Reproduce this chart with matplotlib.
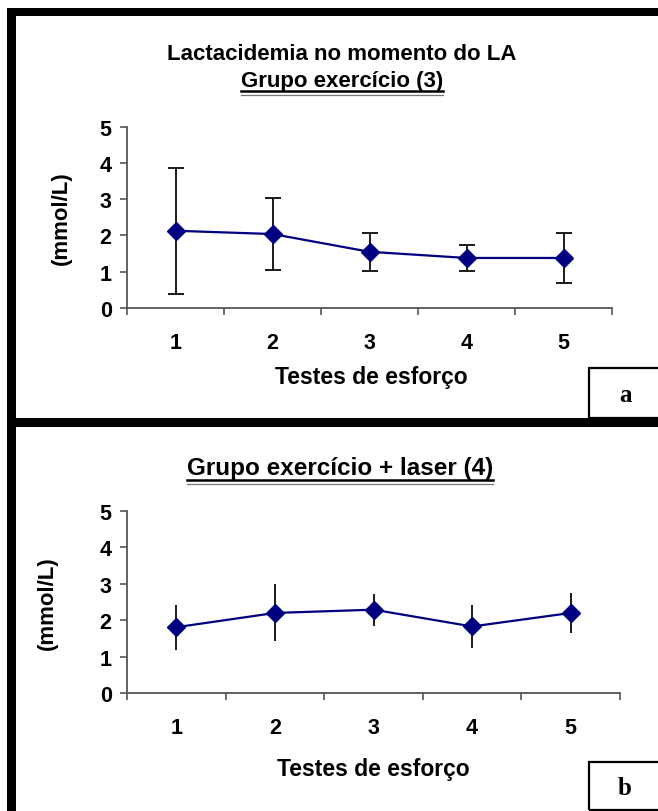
import matplotlib
matplotlib.use("Agg")
import matplotlib.pyplot as plt
from matplotlib.lines import Line2D
from matplotlib.patches import Rectangle

# data
tests = [1, 2, 3, 4, 5]
mean_a = [2.13, 2.04, 1.55, 1.38, 1.38]
sd_a = [1.74, 0.99, 0.53, 0.36, 0.68]
mean_b = [1.81, 2.20, 2.29, 1.83, 2.20]
sd_b = [0.62, 0.78, 0.44, 0.60, 0.56]
yticks = [0, 1, 2, 3, 4, 5]

W, H = 658, 812
NAVY = "#000080"
SANS = "Liberation Sans"
SERIF = "Liberation Serif"
AXC = "#555555"


def fx(x):
    return x / W


def fy(y):
    # y measured from the top of the picture
    return 1 - y / H


def make_axes(fig, left, right, top, bottom, means, sds, caps):
    ax = fig.add_axes([fx(left), fy(bottom), fx(right - left), (bottom - top) / H])
    ax.errorbar(tests, means, yerr=sds, fmt="none", ecolor="#1a1a1a",
                elinewidth=1.4, capsize=caps, capthick=1.4, zorder=2)
    ax.plot(tests, means, color=NAVY, lw=1.6, marker="D", ms=9,
            mfc=NAVY, mec=NAVY, zorder=3)
    ax.set_xlim(0.5, 5.5)
    ax.set_ylim(0, 5)
    ax.set_yticks(yticks)
    ax.set_xticks(tests)
    ax.set_xticks([0.5, 1.5, 2.5, 3.5, 4.5, 5.5], minor=True)
    ax.tick_params(axis="x", which="major", length=0, pad=17)
    ax.tick_params(axis="x", which="minor", length=5, width=1.2, color=AXC,
                   direction="out")
    ax.tick_params(axis="y", length=5, width=1.2, color=AXC, pad=6)
    for lab in ax.get_xticklabels() + ax.get_yticklabels():
        lab.set_fontfamily(SANS)
        lab.set_fontweight("bold")
        lab.set_fontsize(15.5)
    for s in ["top", "right"]:
        ax.spines[s].set_visible(False)
    for s in ["left", "bottom"]:
        ax.spines[s].set_color(AXC)
        ax.spines[s].set_linewidth(1.3)
    return ax


def underline(fig, txt, y):
    # double underline like the original: heavy line with a thin one below
    fig.canvas.draw()
    bb = txt.get_window_extent()
    x0, x1 = bb.x0 / W, bb.x1 / W
    fig.add_artist(Line2D([x0, x1], [fy(y), fy(y)], color="black", lw=1.8,
                          transform=fig.transFigure))
    fig.add_artist(Line2D([x0, x1], [fy(y + 3.5), fy(y + 3.5)], color="#777777",
                          lw=0.9, transform=fig.transFigure))


fig = plt.figure(figsize=(W / 100, H / 100), dpi=100)

# panel frame
frame_kw = dict(color="black", lw=0, transform=fig.transFigure)
fig.add_artist(Rectangle((fx(7), fy(812)), fx(9), (812 - 9) / H, **frame_kw))
fig.add_artist(Rectangle((fx(7), fy(17)), fx(651), 8 / H, **frame_kw))
fig.add_artist(Rectangle((fx(7), fy(428)), fx(651), 9 / H, **frame_kw))

# panel a
make_axes(fig, 127, 612, 127.7, 309, mean_a, sd_a, 6)
fig.text(fx(342), fy(55), "Lactacidemia no momento do LA", ha="center", va="center",
         family=SANS, weight="bold", fontsize=16)
t2 = fig.text(fx(342), fy(81), "Grupo exercício (3)", ha="center", va="center",
              family=SANS, weight="bold", fontsize=16)
fig.text(fx(61), fy(218), "(mmol/L)", rotation=90, ha="center", va="center",
         family=SANS, weight="bold", fontsize=16)
fig.text(fx(371), fy(378), "Testes de esforço", ha="center", va="center",
         family=SANS, weight="bold", fontsize=16.5)

# panel b
make_axes(fig, 127, 620, 511.7, 694.3, mean_b, sd_b, 0)
t3 = fig.text(fx(340), fy(469), "Grupo exercício + laser (4)", ha="center", va="center",
              family=SANS, weight="bold", fontsize=17.5)
fig.text(fx(47), fy(603), "(mmol/L)", rotation=90, ha="center", va="center",
         family=SANS, weight="bold", fontsize=16)
fig.text(fx(373), fy(770), "Testes de esforço", ha="center", va="center",
         family=SANS, weight="bold", fontsize=16.5)

# letter boxes
for top, bottom, letter in [(369, 419, "a"), (763, 811, "b")]:
    fig.add_artist(Rectangle((fx(589), fy(bottom)), fx(80), (bottom - top) / H,
                             fill=False, ec="black", lw=1.6, transform=fig.transFigure))
    fig.text(fx(625), fy((top + bottom) / 2 + 2), letter, ha="center", va="center",
             family=SERIF, weight="bold", fontsize=18)

underline(fig, t2, 92)
underline(fig, t3, 481)

fig.savefig("out.png", dpi=100)
